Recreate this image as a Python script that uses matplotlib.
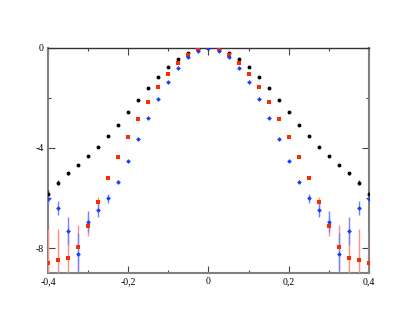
import matplotlib
matplotlib.use("Agg")
import matplotlib.pyplot as plt
from matplotlib.ticker import FuncFormatter, MultipleLocator
import numpy as np

# x positions, left half (symmetric about 0)
x_half = [0.0, -0.025, -0.05, -0.075, -0.1, -0.125, -0.15, -0.175, -0.2,
          -0.225, -0.25, -0.275, -0.3, -0.325, -0.35, -0.375, -0.4]

black_half = [0.0, -0.04, -0.21, -0.45, -0.77, -1.16, -1.6, -2.08, -2.56,
              -3.07, -3.54, -3.97, -4.34, -4.67, -5.0, -5.39, -5.84]
black_err_half = [0.0, 0.0, 0.0, 0.0, 0.0, 0.0, 0.0, 0.0, 0.0,
                  0.0, 0.02, 0.03, 0.04, 0.05, 0.06, 0.1, 0.15]

red_half = [0.0, -0.06, -0.28, -0.61, -1.05, -1.57, -2.17, -2.84, -3.57,
            -4.35, -5.18, -6.15, -7.11, -7.95, -8.39, -8.48, -8.59]
red_err_half = [0.0, 0.0, 0.0, 0.0, 0.0, 0.0, 0.0, 0.0, 0.0,
                0.02, 0.06, 0.2, 0.4, 0.87, 1.24, 1.23, 1.34]

blue_half = [0.0, -0.11, -0.37, -0.79, -1.35, -2.03, -2.8, -3.64, -4.51,
             -5.35, -6.01, -6.48, -6.95, -8.24, -7.32, -6.41, -6.05]
blue_err_half = [0.0, 0.0, 0.0, 0.0, 0.0, 0.0, 0.0, 0.0, 0.0,
                 0.06, 0.17, 0.27, 0.42, 0.83, 0.56, 0.28, 0.2]


def mirror(vals):
    return np.array(vals[:0:-1] + vals)


x = np.sort(np.array([-v for v in x_half[:0:-1]] + x_half))
series = [
    (mirror(black_half), mirror(black_err_half), "o", 2.8, "black", "#404040"),
    (mirror(red_half), mirror(red_err_half), "s", 2.5, "#ff2a00", "#ff8f80"),
    (mirror(blue_half), mirror(blue_err_half), "D", 2.4, "#1a3cff", "#6f86ff"),
]

plt.rcParams["font.family"] = ["Liberation Serif", "DejaVu Serif"]

fig = plt.figure(figsize=(4.15, 3.21), dpi=100)
ax = fig.add_axes([0.1157, 0.1495, 0.7733, 0.701])

for y, err, marker, size, color, ecolor in series:
    ax.errorbar(x, y, yerr=err, fmt=marker, color=color, ecolor=ecolor,
                markersize=size, elinewidth=1.0, capsize=1.2, capthick=0.8,
                markeredgewidth=0, zorder=3)

ax.set_xlim(-0.4, 0.4)
ax.set_ylim(-9, 0)
ax.xaxis.set_major_locator(MultipleLocator(0.2))
ax.xaxis.set_minor_locator(MultipleLocator(0.1))
ax.yaxis.set_major_locator(MultipleLocator(4))
ax.yaxis.set_minor_locator(MultipleLocator(2))

comma = FuncFormatter(lambda v, pos: ("%g" % round(v, 3)).replace(".", ","))
ax.xaxis.set_major_formatter(comma)
ax.yaxis.set_major_formatter(comma)

ax.tick_params(which="both", direction="in", top=True, right=True,
               labelsize=7, width=0.8, color="#444444", pad=3)
ax.tick_params(which="major", length=5)
ax.tick_params(which="minor", length=2.5)

for side in ["left", "bottom", "right"]:
    ax.spines[side].set_color("#808080")
    ax.spines[side].set_linewidth(1.5)
ax.spines["top"].set_color("#333333")
ax.spines["top"].set_linewidth(1.0)

fig.savefig("out.png", dpi=100)
plt.close(fig)
